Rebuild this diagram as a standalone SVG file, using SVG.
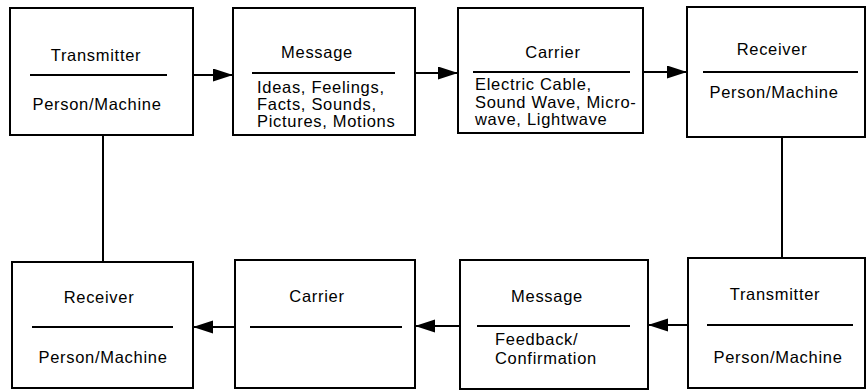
<svg xmlns="http://www.w3.org/2000/svg" width="867" height="391" viewBox="0 0 867 391">
<style>
.box{fill:#fff;stroke:#000;stroke-width:2}
.div{stroke:#000;stroke-width:2}
.conn{stroke:#000;stroke-width:2;fill:none}
text{font-family:"Liberation Sans",Arial,sans-serif;font-size:16.5px;letter-spacing:0.7px;fill:#000}
.c{text-anchor:middle}
</style>
<defs>
<marker id="ah" markerUnits="userSpaceOnUse" markerWidth="22" markerHeight="14" refX="20" refY="6.5" orient="auto">
<path d="M0,0 L20,6.5 L0,13 z" fill="#000"/>
</marker>
</defs>
<rect width="867" height="391" fill="#fff"/>
<g id="connectors">
<line class="conn" x1="193" y1="75" x2="233" y2="75" marker-end="url(#ah)"/>
<line class="conn" x1="415" y1="73" x2="458" y2="73" marker-end="url(#ah)"/>
<line class="conn" x1="643" y1="72" x2="687" y2="72" marker-end="url(#ah)"/>
<line class="conn" x1="688" y1="325" x2="648" y2="325" marker-end="url(#ah)"/>
<line class="conn" x1="460" y1="326" x2="415" y2="326" marker-end="url(#ah)"/>
<line class="conn" x1="235" y1="327" x2="193" y2="327" marker-end="url(#ah)"/>
<line class="conn" x1="103" y1="135" x2="103" y2="262"/>
<line class="conn" x1="782" y1="137" x2="782" y2="258"/>
</g>
<g id="transmitter-top">
<rect class="box" x="10" y="8" width="183" height="127"/>
<line class="div" x1="30" y1="75" x2="167" y2="75"/>
<text class="c" x="96" y="61">Transmitter</text>
<text class="c" x="97" y="110">Person/Machine</text>
</g>
<g id="message-top">
<rect class="box" x="233" y="8" width="182" height="127"/>
<line class="div" x1="252" y1="73" x2="395" y2="73"/>
<text class="c" x="317" y="58">Message</text>
<text x="257" y="93">Ideas, Feelings,</text>
<text x="257" y="110">Facts, Sounds,</text>
<text x="257" y="127">Pictures, Motions</text>
</g>
<g id="carrier-top">
<rect class="box" x="458" y="8" width="185" height="125"/>
<line class="div" x1="473" y1="72" x2="630" y2="72"/>
<text class="c" x="553" y="58">Carrier</text>
<text x="475" y="90">Electric Cable,</text>
<text x="475" y="108">Sound Wave, Micro-</text>
<text x="475" y="125">wave, Lightwave</text>
</g>
<g id="receiver-top">
<rect class="box" x="687" y="7" width="178" height="130"/>
<line class="div" x1="703" y1="72" x2="858" y2="72"/>
<text class="c" x="772" y="55">Receiver</text>
<text class="c" x="774" y="98">Person/Machine</text>
</g>
<g id="receiver-bottom">
<rect class="box" x="12" y="262" width="181" height="126"/>
<line class="div" x1="32" y1="327" x2="173" y2="327"/>
<text class="c" x="99" y="303">Receiver</text>
<text class="c" x="103" y="363">Person/Machine</text>
</g>
<g id="carrier-bottom">
<rect class="box" x="235" y="260" width="180" height="128"/>
<line class="div" x1="250" y1="327" x2="402" y2="327"/>
<text class="c" x="317" y="302">Carrier</text>
</g>
<g id="message-bottom">
<rect class="box" x="460" y="260" width="188" height="129"/>
<line class="div" x1="477" y1="326" x2="630" y2="326"/>
<text class="c" x="547" y="302">Message</text>
<text x="495" y="345">Feedback/</text>
<text x="495" y="364">Confirmation</text>
</g>
<g id="transmitter-bottom">
<rect class="box" x="688" y="258" width="177" height="130"/>
<line class="div" x1="707" y1="325" x2="853" y2="325"/>
<text class="c" x="775" y="300">Transmitter</text>
<text class="c" x="778" y="363">Person/Machine</text>
</g>
</svg>
